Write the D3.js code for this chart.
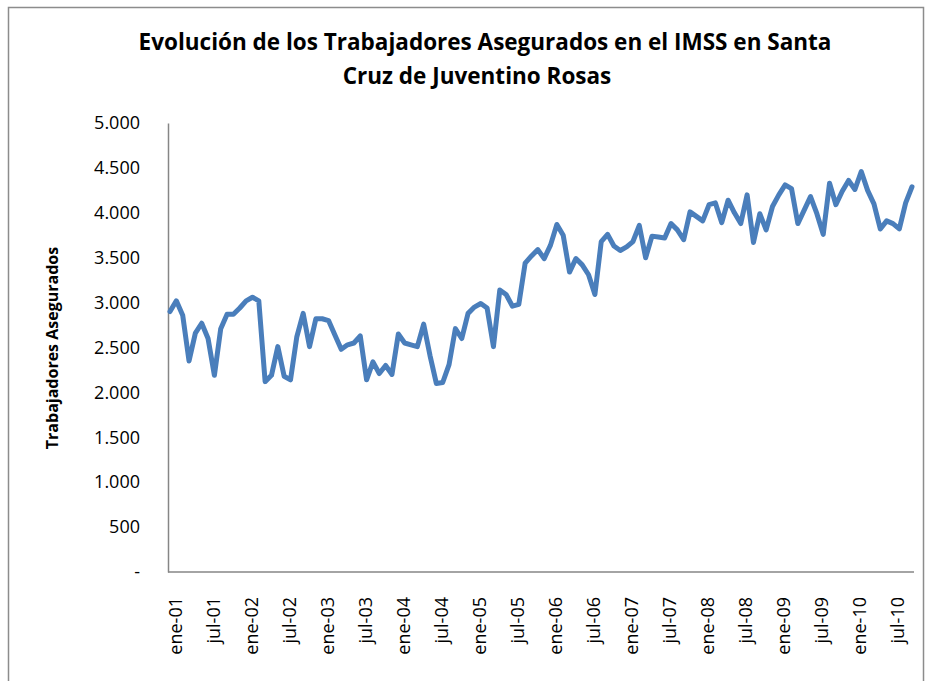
<!DOCTYPE html>
<html>
<head>
<meta charset="utf-8">
<script src="https://cdn.jsdelivr.net/npm/d3@7"></script>
<style>
  body { margin: 0; background: #fff; }
  svg text { font-family: "Open Sans", Lato, sans-serif; fill: #000; }
</style>
</head>
<body>
<div id="chart"></div>
<script>
// month names (Spanish) and years of the series
var monthNames = ["ene","feb","mar","abr","may","jun","jul","ago","sep","oct","nov","dic"];
var years = ["01","02","03","04","05","06","07","08","09","10"];

// insured workers, monthly from ene-01 to oct-10
var workers = [
  2900, 3020, 2860, 2350, 2660, 2770, 2600, 2190, 2710, 2870, 2870, 2940,
  3020, 3060, 3020, 2120, 2190, 2510, 2180, 2140, 2620, 2880, 2510, 2820,
  2820, 2800, 2640, 2480, 2530, 2550, 2630, 2140, 2340, 2210, 2300, 2200,
  2650, 2550, 2530, 2510, 2760, 2410, 2100, 2110, 2310, 2710, 2600, 2880,
  2950, 2990, 2940, 2510, 3140, 3090, 2960, 2980, 3440, 3520, 3590, 3490,
  3640, 3870, 3750, 3340, 3490, 3420, 3310, 3090, 3680, 3760, 3630, 3580,
  3620, 3680, 3860, 3500, 3740, 3730, 3720, 3880, 3810, 3700, 4010, 3960,
  3910, 4090, 4110, 3890, 4140, 4000, 3880, 4200, 3670, 3990, 3810, 4070,
  4200, 4310, 4270, 3880, 4030, 4180, 3990, 3760, 4330, 4090, 4240, 4360,
  4260, 4460, 4250, 4100, 3820, 3910, 3880, 3820, 4110, 4290
];

var yTicks = [0, 500, 1000, 1500, 2000, 2500, 3000, 3500, 4000, 4500, 5000];
var yTickLabels = ["-", "500", "1.000", "1.500", "2.000", "2.500", "3.000", "3.500", "4.000", "4.500", "5.000"];

var months = [];
years.forEach(function(yy) {
    monthNames.forEach(function(m) { months.push(m + "-" + yy); });
});
months = months.slice(0, workers.length);

var data = months.map(function(m, i) { return {month: m, value: workers[i]}; });

var W = 933, H = 681;
var margin = {top: 123, left: 170},
    width = 912 - margin.left,
    height = 572 - margin.top;

var svg = d3.select("#chart").append("svg")
    .attr("width", W)
    .attr("height", H);

// chart area border
svg.append("rect")
    .attr("x", 8.5).attr("y", 7.5)
    .attr("width", 915).attr("height", H)
    .attr("fill", "#fff")
    .attr("stroke", "#8c8c8c")
    .attr("stroke-width", 1.5);

svg.append("text")
    .attr("x", 485).attr("y", 50)
    .attr("text-anchor", "middle")
    .style("font-size", "22.5px").style("font-weight", "bold")
    .text("Evolución de los Trabajadores Asegurados en el IMSS en Santa");
svg.append("text")
    .attr("x", 477).attr("y", 84)
    .attr("text-anchor", "middle")
    .style("font-size", "22.5px").style("font-weight", "bold")
    .text("Cruz de Juventino Rosas");

var g = svg.append("g")
    .attr("transform", "translate(" + margin.left + "," + margin.top + ")");

var x = d3.scalePoint()
    .domain(months)
    .range([0, width]);

var y = d3.scaleLinear()
    .domain([0, 5000])
    .range([height, 0]);

var yAxis = g.append("g")
    .attr("transform", "translate(-2,0)")
    .call(d3.axisLeft(y).tickValues(yTicks).tickSize(0).tickPadding(28)
        .tickFormat(function(d, i) { return yTickLabels[i]; }));
yAxis.select(".domain").attr("stroke", "#868686").attr("stroke-width", 1.5);
yAxis.selectAll("text").style("font-size", "18px");

var xAxis = g.append("g")
    .attr("transform", "translate(0," + height + ")")
    .call(d3.axisBottom(x)
        .tickValues(months.filter(function(d, i) { return i % 6 == 0; }))
        .tickSize(0).tickSizeOuter(0));
xAxis.select(".domain")
    .attr("d", "M-2,0H" + (width + 2))
    .attr("stroke", "#868686").attr("stroke-width", 1.5);
xAxis.selectAll("text")
    .style("font-size", "18px")
    .attr("text-anchor", "end")
    .attr("dy", null)
    .attr("dominant-baseline", "central")
    .attr("transform", "translate(4,25) rotate(-90)")
    .attr("x", 0).attr("y", 0);

svg.append("text")
    .attr("transform", "translate(58,348) rotate(-90)")
    .attr("text-anchor", "middle")
    .style("font-size", "16px").style("font-weight", "bold")
    .text("Trabajadores Asegurados");

var line = d3.line()
    .x(function(d) { return x(d.month); })
    .y(function(d) { return y(d.value); });

g.append("path")
    .datum(data)
    .attr("fill", "none")
    .attr("stroke", "#4a7ebb")
    .attr("stroke-width", 5)
    .attr("stroke-linejoin", "round")
    .attr("stroke-linecap", "round")
    .attr("d", line);
</script>
</body>
</html>
